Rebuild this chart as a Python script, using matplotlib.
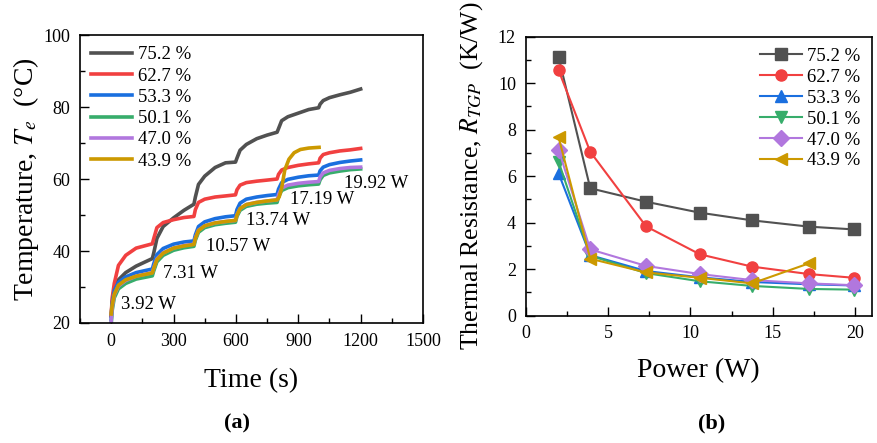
import numpy as np
import matplotlib
matplotlib.use("Agg")
import matplotlib.pyplot as plt

plt.rcParams['font.family'] = ['Liberation Serif', 'DejaVu Serif']
plt.rcParams['mathtext.fontset'] = 'stix'

# colours (Origin-like palette)
colors = ['#515151', '#F14040', '#1A6FDF', '#37AD6B', '#B177DE', '#CC9900']
labels = ['75.2 %', '62.7 %', '53.3 %', '50.1 %', '47.0 %', '43.9 %']

# ---- panel (a): evaporator temperature vs time
t = [0, 5, 15, 35, 70, 120, 198, 205, 220, 250, 300, 350, 398, 405, 420, 450,
     500, 550, 598, 605, 620, 650, 700, 750, 798, 805, 820, 850, 900, 950, 998,
     1005, 1020, 1050, 1100, 1150, 1200]
T_752 = [22, 26, 29.5, 32, 34, 35.8, 37.9, 39.5, 43.5, 46.8, 49.2, 51.3, 53, 55,
         58.5, 60.8, 63.2, 64.5, 64.7, 65.8, 68, 69.6, 71.2, 72.2, 73, 74, 76.2,
         77.3, 78.3, 79.3, 79.8, 80.8, 81.8, 82.6, 83.4, 84.1, 85]
T_627 = [22, 27, 31, 36, 38.8, 40.8, 42, 43.5, 46.5, 47.9, 48.7, 49.3, 49.6, 51.5,
         53.5, 54.4, 55, 55.3, 55.6, 57, 58.3, 59, 59.4, 59.7, 60, 61.3, 62.5,
         63.2, 63.8, 64.2, 64.5, 65.8, 66.8, 67.3, 67.8, 68.1, 68.5]
T_533 = [21, 25.5, 29, 31.3, 32.8, 34, 35, 36.5, 39, 40.7, 41.9, 42.5, 42.8, 44.5,
         46.8, 48.1, 49, 49.5, 49.8, 51.5, 53.3, 54.4, 55, 55.4, 55.7, 57.2, 59,
         59.9, 60.5, 60.9, 61.1, 62.3, 63.3, 64, 64.6, 65, 65.3]
T_501 = [19.5, 23.5, 27, 29.5, 31, 32.2, 33.1, 34.5, 37, 38.8, 40.2, 40.9, 41.3,
         43, 45.2, 46.5, 47.3, 47.7, 48, 49.6, 51.3, 52.4, 53, 53.3, 53.5, 55,
         56.8, 57.6, 58.1, 58.4, 58.6, 59.8, 61, 61.7, 62.2, 62.6, 62.8]
T_470 = [20.5, 24.3, 27.8, 30.3, 31.8, 33, 34, 35.3, 37.8, 39.5, 40.8, 41.5, 41.9,
         43.6, 45.8, 47, 47.8, 48.2, 48.5, 50.1, 51.8, 52.9, 53.5, 53.9, 54.2,
         55.7, 57.5, 58.3, 58.8, 59.1, 59.3, 60.6, 61.7, 62.4, 62.9, 63.2, 63.3]
t_439 = [0, 5, 15, 35, 70, 120, 198, 205, 220, 250, 300, 350, 398, 405, 420, 450,
         500, 550, 598, 605, 620, 650, 700, 750, 798, 808, 820, 835, 855, 880,
         910, 950, 1000]
T_439 = [22.5, 25, 28, 30.5, 32, 33, 33.9, 35.2, 37.6, 39.4, 40.8, 41.4, 41.8,
         43.5, 45.7, 47, 47.8, 48.2, 48.5, 50, 51.8, 52.9, 53.5, 53.9, 54.2, 55,
         57.5, 62.5, 65.5, 67.3, 68.2, 68.6, 68.8]

step_labels = ['3.92 W', '7.31 W', '10.57 W', '13.74 W', '17.19 W', '19.92 W']
step_x = [45, 249, 455, 650, 862, 1122]
step_y = [25, 33.8, 41.2, 48.6, 54.2, 58.8]

# ---- panel (b): thermal resistance vs power
power = [2.0, 3.92, 7.31, 10.57, 13.74, 17.19, 19.92]
R_752 = [11.11, 5.48, 4.90, 4.43, 4.10, 3.83, 3.71]
R_627 = [10.55, 7.05, 3.84, 2.64, 2.11, 1.79, 1.63]
R_533 = [6.12, 2.60, 1.92, 1.65, 1.45, 1.35, 1.30]
R_501 = [6.62, 2.58, 1.83, 1.48, 1.28, 1.15, 1.12]
R_470 = [7.13, 2.85, 2.14, 1.79, 1.53, 1.39, 1.31]
R_439 = [7.67, 2.45, 1.86, 1.63, 1.39, 2.25]
markers = ['s', 'o', '^', 'v', 'D', '<']

fig = plt.figure(figsize=(8.78, 4.43), dpi=100)
ax1 = fig.add_axes([0.0911, 0.2709, 0.3907, 0.650])
ax2 = fig.add_axes([0.5987, 0.2874, 0.3941, 0.6298])

temps = [T_752, T_627, T_533, T_501, T_470]
for T, c, lab in zip(temps, colors[:5], labels[:5]):
    ax1.plot(t, T, color=c, lw=2.6, label=lab)
ax1.plot(t_439, T_439, color=colors[5], lw=2.6, label=labels[5])

for s, x, y in zip(step_labels, step_x, step_y):
    ax1.text(x, y, s, fontsize=13.5, va='center', ha='left')

ax1.set_xlim(-100, 1500)
ax1.set_ylim(20, 100)
ax1.set_xticks([0, 300, 600, 900, 1200, 1500])
ax1.set_xticks(np.arange(-150, 1500, 150), minor=True)
ax1.set_yticks([20, 40, 60, 80, 100])
ax1.set_yticks([30, 50, 70, 90], minor=True)
ax1.set_xlabel('Time (s)', fontsize=20, labelpad=13)
ax1.set_ylabel('Temperature, $T_e$  (°C)', fontsize=20, labelpad=2)
ax1.legend(loc='upper left', frameon=False, fontsize=13.5, handlelength=2.2,
           handletextpad=0.3, labelspacing=0.22, borderaxespad=0.2,
           bbox_to_anchor=(0.0, 1.0))

Rs = [R_752, R_627, R_533, R_501, R_470]
for R, c, m, lab in zip(Rs, colors[:5], markers[:5], labels[:5]):
    ax2.plot(power, R, color=c, marker=m, ms=8, lw=1.5, label=lab)
ax2.plot(power[:len(R_439)], R_439, color=colors[5], marker=markers[5], ms=9,
         lw=1.5, label=labels[5])

ax2.set_xlim(0, 21)
ax2.set_ylim(0, 12)
ax2.set_xticks([0, 5, 10, 15, 20])
ax2.set_xticks([2.5, 7.5, 12.5, 17.5], minor=True)
ax2.set_yticks([0, 2, 4, 6, 8, 10, 12])
ax2.set_yticks([1, 3, 5, 7, 9, 11], minor=True)
ax2.set_xlabel('Power (W)', fontsize=20, labelpad=11)
ax2.set_ylabel('Thermal Resistance, $R_{TGP}$  (K/W)', fontsize=18.5, labelpad=9)
ax2.legend(loc='upper right', frameon=False, fontsize=13.5, handlelength=2.2,
           handletextpad=0.3, labelspacing=0.2, borderaxespad=0.2)

for ax in (ax1, ax2):
    ax.tick_params(which='both', direction='in', labelsize=13, pad=7)
    ax.tick_params(which='major', length=6.5, width=1)
    ax.tick_params(which='minor', length=3.5, width=1)
    for sp in ax.spines.values():
        sp.set_linewidth(1.2)

fig.text(0.27, 0.043, '(a)', fontsize=16, fontweight='bold', ha='center', va='center')
fig.text(0.811, 0.043, '(b)', fontsize=16, fontweight='bold', ha='center', va='center')

fig.savefig('out.png', dpi=100)
